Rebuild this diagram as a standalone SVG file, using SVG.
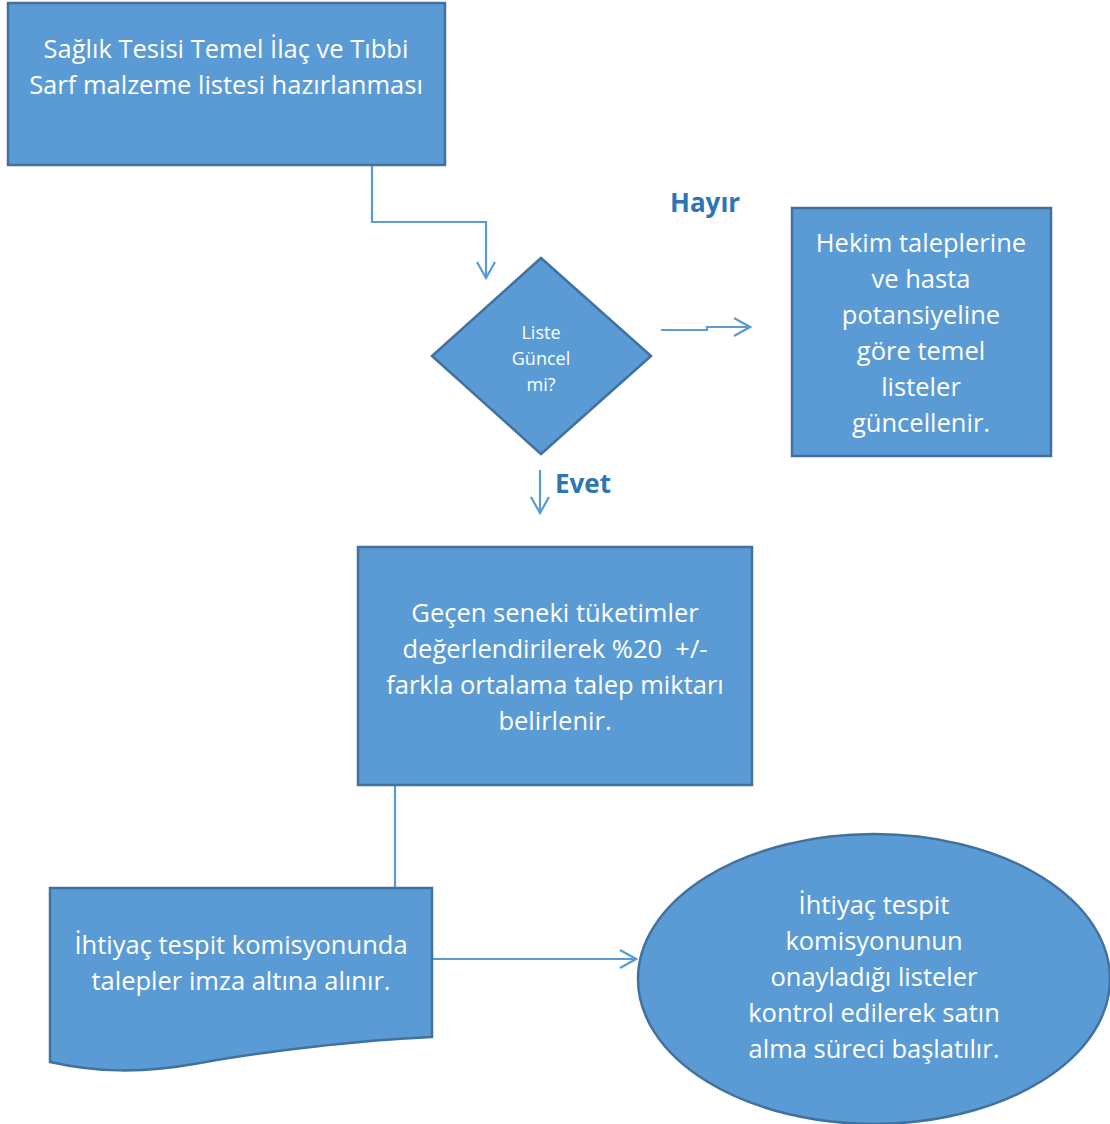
<svg xmlns="http://www.w3.org/2000/svg" width="1110" height="1124" viewBox="0 0 1110 1124">
  <style>
    .shape { fill: #5b9bd5; stroke: #41719c; stroke-width: 2.5; }
    .txt { font-family: "Open Sans", "Liberation Sans", sans-serif; fill: #ffffff; text-anchor: middle; font-size: 25.5px; }
    .small { font-size: 18px; }
    .lbl { font-family: "Open Sans", "Liberation Sans", sans-serif; fill: #2e75b6; font-weight: bold; font-size: 26px; }
    .conn { fill: none; stroke: #5b9bd5; stroke-width: 2.2; }
  </style>
  <defs>
    <marker id="open" viewBox="0 0 20 20" refX="18" refY="10" markerWidth="20" markerHeight="20" markerUnits="userSpaceOnUse" orient="auto">
      <path d="M2,1 L18,10 L2,19" fill="none" stroke="#5b9bd5" stroke-width="2.2"/>
    </marker>
  </defs>

  <g id="connectors">
    <path class="conn" d="M372,165 V222 H486 V278" marker-end="url(#open)"/>
    <path class="conn" d="M661,330 H707 V327 H750" marker-end="url(#open)"/>
    <path class="conn" d="M540,470 V513" marker-end="url(#open)"/>
    <path class="conn" d="M395,785 V888"/>
    <path class="conn" d="M432,959 H636" marker-end="url(#open)"/>
  </g>

  <g id="start">
    <rect class="shape" x="8" y="3" width="437" height="162"/>
    <text class="txt" x="226" y="58">Sağlık Tesisi Temel İlaç ve Tıbbi</text>
    <text class="txt" x="226" y="94">Sarf malzeme listesi hazırlanması</text>
  </g>

  <g id="decision">
    <polygon class="shape" points="541,258 651,356 541,454 432,356"/>
    <text class="txt small" x="541" y="339">Liste</text>
    <text class="txt small" x="541" y="365">Güncel</text>
    <text class="txt small" x="541" y="391">mi?</text>
  </g>

  <g id="label-hayir">
    <text class="lbl" x="670" y="212">Hayır</text>
  </g>
  <g id="label-evet">
    <text class="lbl" x="555" y="493">Evet</text>
  </g>

  <g id="update">
    <rect class="shape" x="792" y="208" width="259" height="248"/>
    <text class="txt" x="921" y="252">Hekim taleplerine</text>
    <text class="txt" x="921" y="288">ve hasta</text>
    <text class="txt" x="921" y="324">potansiyeline</text>
    <text class="txt" x="921" y="360">göre temel</text>
    <text class="txt" x="921" y="396">listeler</text>
    <text class="txt" x="921" y="432">güncellenir.</text>
  </g>

  <g id="estimate">
    <rect class="shape" x="358" y="547" width="394" height="238"/>
    <text class="txt" x="555" y="622">Geçen seneki tüketimler</text>
    <text class="txt" x="555" y="658">değerlendirilerek %20 &#160;+/-</text>
    <text class="txt" x="555" y="694">farkla ortalama talep miktarı</text>
    <text class="txt" x="555" y="730">belirlenir.</text>
  </g>

  <g id="sign">
    <path class="shape" d="M50,888 H432 V1037 C360,1040 260,1052 200,1063 C140,1074 95,1072 50,1062 Z"/>
    <text class="txt" x="241" y="954">İhtiyaç tespit komisyonunda</text>
    <text class="txt" x="241" y="990">talepler imza altına alınır.</text>
  </g>

  <g id="purchase">
    <ellipse class="shape" cx="874" cy="979" rx="236" ry="145"/>
    <text class="txt" x="874" y="914">İhtiyaç tespit</text>
    <text class="txt" x="874" y="950">komisyonunun</text>
    <text class="txt" x="874" y="986">onayladığı listeler</text>
    <text class="txt" x="874" y="1022">kontrol edilerek satın</text>
    <text class="txt" x="874" y="1058">alma süreci başlatılır.</text>
  </g>
</svg>
